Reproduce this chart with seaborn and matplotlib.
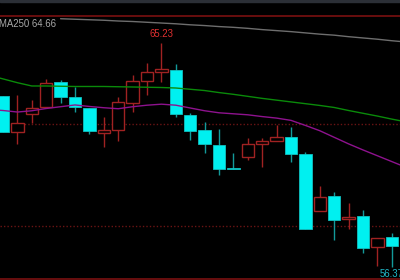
import numpy as np
import pandas as pd
import matplotlib
matplotlib.use("Agg")
import matplotlib.pyplot as plt
import seaborn as sns

# ---- data (prices) ----
opens  = [63.13, 61.71, 62.42, 62.70, 63.69, 63.09, 62.66, 61.67, 61.79, 62.86, 63.73, 64.08, 64.16, 62.38,
          61.79, 61.20, 60.29, 60.72, 61.24, 61.35, 61.51, 60.84, 58.59, 59.18, 58.27, 58.39, 57.16, 57.56]
closes = [61.71, 62.07, 62.66, 63.65, 63.09, 62.70, 61.75, 61.79, 62.90, 63.73, 64.08, 64.20, 62.42, 61.75,
          61.24, 60.25, 60.25, 61.24, 61.35, 61.51, 60.84, 57.87, 59.14, 58.23, 58.35, 57.12, 57.52, 57.20]
highs  = [63.13, 63.17, 62.98, 63.81, 63.77, 63.49, 62.66, 62.30, 63.09, 63.97, 64.44, 65.23, 64.40, 62.46,
          62.11, 61.83, 60.88, 61.47, 61.47, 61.99, 61.91, 60.92, 59.57, 59.34, 58.90, 58.63, 57.52, 57.72]
lows   = [61.71, 61.24, 62.07, 62.66, 62.86, 62.50, 61.63, 61.12, 61.35, 62.50, 63.17, 63.69, 62.30, 61.39,
          60.88, 60.01, 60.25, 60.60, 60.33, 61.35, 60.52, 57.87, 58.59, 57.44, 57.87, 56.92, 56.41, 56.37]

ma_x = list(range(-1, 29))
ma_green = [63.96, 63.81, 63.66, 63.53, 63.53, 63.52, 63.51, 63.51, 63.51, 63.50, 63.49, 63.48, 63.47, 63.45,
            63.40, 63.35, 63.27, 63.20, 63.12, 63.04, 62.97, 62.90, 62.83, 62.76, 62.68, 62.56, 62.45, 62.34,
            62.22, 62.11]
ma_purple = [62.60, 62.56, 62.50, 62.55, 62.64, 62.71, 62.78, 62.72, 62.67, 62.63, 62.71, 62.77, 62.81, 62.77,
             62.66, 62.55, 62.47, 62.43, 62.39, 62.32, 62.26, 62.17, 61.97, 61.76, 61.50, 61.24, 61.00, 60.77,
             60.54, 60.31]
gray_x = list(range(4, 29))
ma_gray = [66.19, 66.17, 66.15, 66.13, 66.10, 66.08, 66.05, 66.02, 65.99, 65.95, 65.92, 65.88, 65.85, 65.81,
           65.76, 65.72, 65.68, 65.63, 65.58, 65.54, 65.48, 65.43, 65.38, 65.32, 65.27]

ref_solid = [66.30, 55.895]
ref_dotted = [62.01, 58.01]
ma250_label = "MA250 64.66"

# ---- style ----
sns.set_style("dark", {"axes.facecolor": "black", "figure.facecolor": "black"})
plt.rcParams['font.family'] = ['Liberation Sans', 'DejaVu Sans']

fig = plt.figure(figsize=(4, 2.8), dpi=100, facecolor="black")
ax = fig.add_axes([0, 0, 1, 1])
ax.set_facecolor("black")

RED = "#a02222"
CYAN = "#00f0f0"
CYAN_EDGE = "#10c0c0"
CYAN_WICK = "#139a9a"

x = np.arange(len(opens))
o = np.array(opens); c = np.array(closes); h = np.array(highs); l = np.array(lows)
up = c >= o

# reference lines
for v in ref_solid:
    ax.axhline(v, color="#7a1010", lw=1.2, zorder=1)
for v in ref_dotted:
    ax.axhline(v, color="#6a1414", lw=1.0, ls=(0, (1, 1.5)), zorder=1)

# wicks
ax.vlines(x[up], l[up], h[up], color=RED, lw=1.0, zorder=2)
ax.vlines(x[~up], l[~up], h[~up], color=CYAN_WICK, lw=1.0, zorder=2)

# bodies
w = 0.86
hu = np.maximum(c[up] - o[up], 0.03)
ax.bar(x[up], hu, bottom=o[up], width=w, facecolor="black", edgecolor=RED, linewidth=1.0, zorder=3)
hd = np.maximum(o[~up] - c[~up], 0.03)
ax.bar(x[~~up == False], hd, bottom=c[~up], width=w, facecolor=CYAN, edgecolor=CYAN_EDGE, linewidth=0.6, zorder=3)

# moving averages
df_g = pd.DataFrame({"x": ma_x, "y": ma_green})
df_p = pd.DataFrame({"x": ma_x, "y": ma_purple})
df_k = pd.DataFrame({"x": gray_x, "y": ma_gray})
sns.lineplot(data=df_g, x="x", y="y", ax=ax, color="#0a8a0a", lw=1.0, zorder=4)
sns.lineplot(data=df_p, x="x", y="y", ax=ax, color="#8e128e", lw=1.0, zorder=4)
sns.lineplot(data=df_k, x="x", y="y", ax=ax, color="#6e6e6e", lw=1.0, zorder=4)

# limits: candle i centre at pixel 3 + 14.4 i
x0 = -3 / 14.4
ax.set_xlim(x0, x0 + 400 / 14.4)
ax.set_ylim(55.856, 66.931)
ax.axis("off")

# top band
ax.axhspan(66.86, 67.5, color="#2b2f36", zorder=5)

# labels
ih = int(np.argmax(h)); il = int(np.argmin(l))
ax.annotate(f"{h[ih]:.2f}", (ih, h[ih]), xytext=(0, 3), textcoords="offset points",
            ha="center", va="bottom", color="#e03030", fontsize=6.9, zorder=6)
ax.annotate(f"{l[il]:.2f}", (il, l[il]), xytext=(-9, -1.5), textcoords="offset points",
            ha="left", va="top", color="#20b8c8", fontsize=6.9, zorder=6)
ax.text(-0.002, 0.916, ma250_label, transform=ax.transAxes, ha="left", va="center",
        color="#a8a8a8", fontsize=6.9, zorder=6)

fig.savefig("out.png", dpi=100, facecolor="black")
